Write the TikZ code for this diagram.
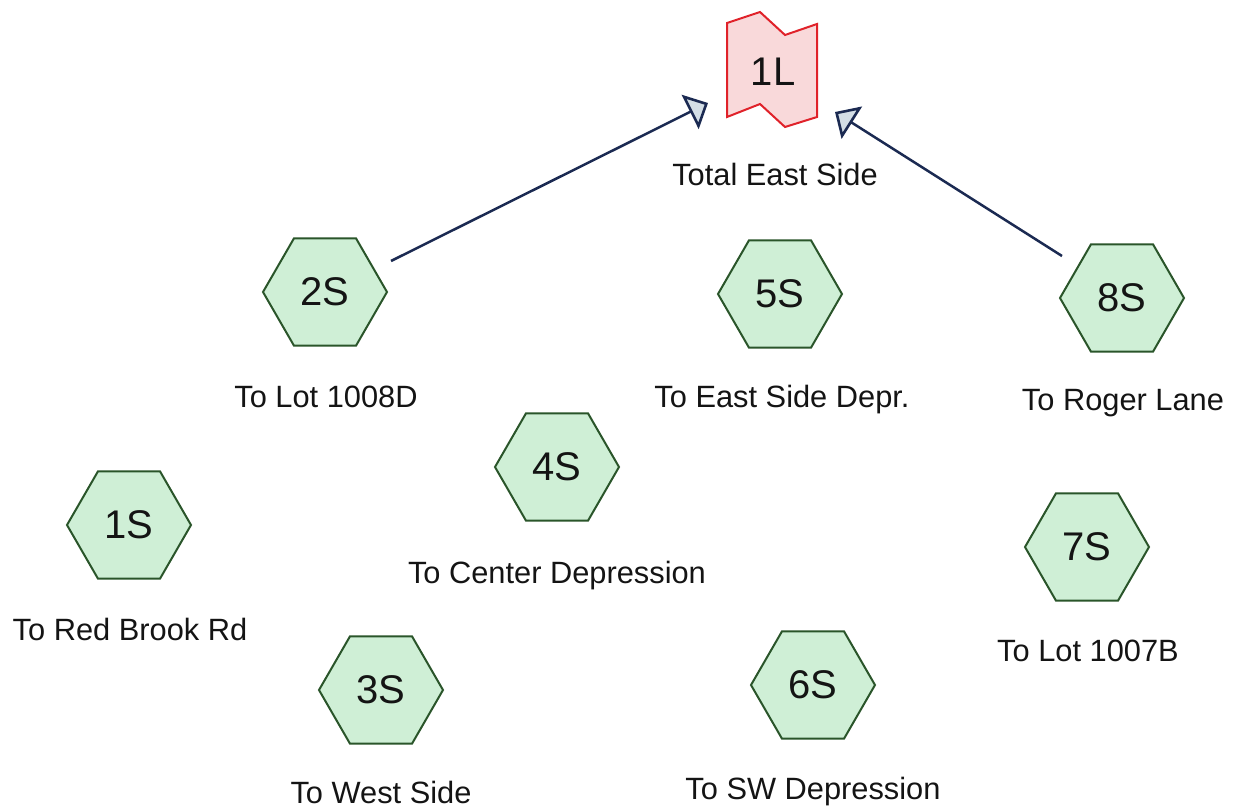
\documentclass[tikz,border=0pt]{standalone}
\usepackage{fontspec}
\setmainfont{Liberation Sans}
\usetikzlibrary{arrows.meta,shapes.geometric,calc}
\definecolor{hexfill}{HTML}{CFEFD6}
\definecolor{hexedge}{HTML}{2A552A}
\definecolor{pondfill}{HTML}{F9D9DA}
\definecolor{pondedge}{HTML}{E0222A}
\definecolor{navy}{HTML}{1B2A52}
\definecolor{headfill}{HTML}{D3DEE6}
\definecolor{ink}{HTML}{141414}
\begin{document}
\begin{tikzpicture}[x=1pt,y=-1pt,
 hexnode/.style={regular polygon, regular polygon sides=6, minimum size=124pt, inner sep=0pt, draw=hexedge, fill=hexfill, line width=2pt, font=\fontsize{40}{44}\selectfont, text=ink},
 pondtext/.style={inner sep=0pt, font=\fontsize{40}{44}\selectfont, text=ink},
 pondshape/.style={draw=pondedge, fill=pondfill, line width=2pt, line join=miter},
 lbl/.style={anchor=base, font=\fontsize{30.8}{34}\selectfont, text=ink, inner sep=0pt},
 flow/.style={draw=navy, line width=2.5pt, -{Triangle[length=20pt,width=38pt,fill=headfill,line width=2.6pt]}}]
\useasboundingbox (0,0) rectangle (1235,811);
% pond 1L
\coordinate (p1) at (727,23);
\coordinate (p2) at (760,12);
\coordinate (p3) at (785,35);
\coordinate (p4) at (817,24);
\coordinate (p5) at (817,117);
\coordinate (p6) at (785,127);
\coordinate (p7) at (760,104);
\coordinate (p8) at (727,117);
\path[pondshape] (p1) -- (p2) -- (p3) -- (p4) -- (p5) -- (p6) -- (p7) -- (p8) -- cycle;
\node[pondtext] (l1) at (773,72) {1L};
\node[lbl] (l1lbl) at (775,185) {Total East Side};
% subcatchments
\node[hexnode] (s2) at (325,292) {2S};
\node[hexnode] (s5) at (780,294) {5S};
\node[hexnode] (s8) at (1122,298) {8S};
\node[hexnode] (s4) at (557,467) {4S};
\node[hexnode] (s1) at (129,525) {1S};
\node[hexnode] (s7) at (1087,547) {7S};
\node[hexnode] (s3) at (381,690) {3S};
\node[hexnode] (s6) at (813,685) {6S};
% labels
\node[lbl] (s2lbl) at (326,407) {To Lot 1008D};
\node[lbl] (s5lbl) at (782,407) {To East Side Depr.};
\node[lbl] (s8lbl) at (1123,410) {To Roger Lane};
\node[lbl] (s4lbl) at (557,583) {To Center Depression};
\node[lbl] (s1lbl) at (130,640) {To Red Brook Rd};
\node[lbl] (s7lbl) at (1088,661) {To Lot 1007B};
\node[lbl] (s3lbl) at (381,803) {To West Side};
\node[lbl] (s6lbl) at (813,799) {To SW Depression};
% connectors
\coordinate (s2out) at ($(s2)+(66,-31)$);
\coordinate (s8out) at ($(s8)+(-60,-42)$);
\coordinate (l1inA) at ($(l1)+(-65,31)$);
\coordinate (l1inB) at ($(l1)+(62,40)$);
\draw[flow] (s2out) -- (l1inA);
\draw[flow] (s8out) -- (l1inB);
\end{tikzpicture}
\end{document}
